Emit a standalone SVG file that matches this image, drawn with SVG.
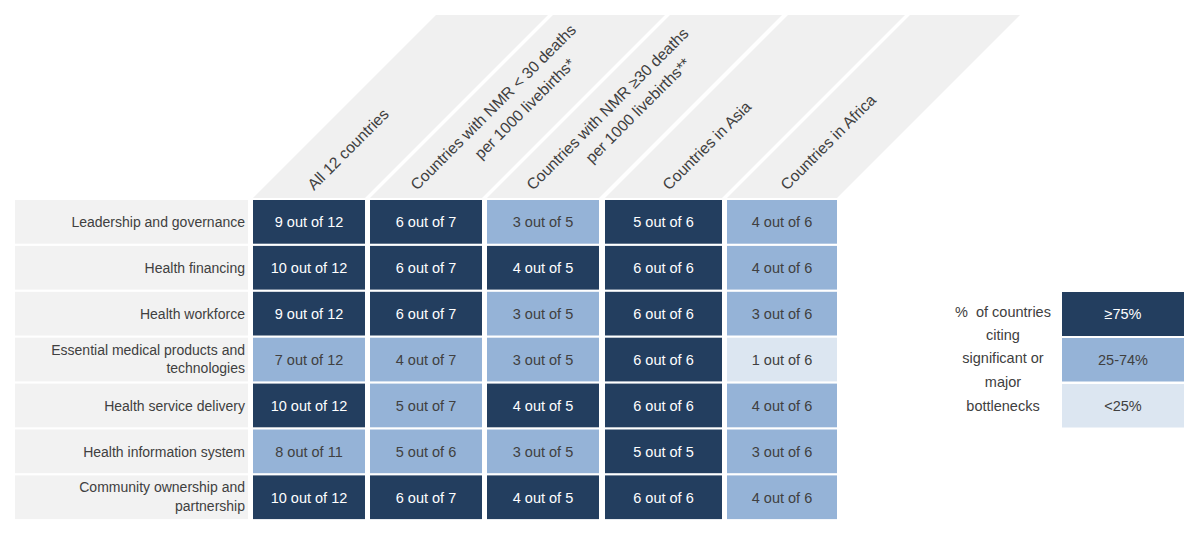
<svg xmlns="http://www.w3.org/2000/svg" width="1200" height="534" viewBox="0 0 1200 534">
<style>
text{font-family:"Liberation Sans",Arial,sans-serif;fill:#404040}
.hd{fill:#f0f0f0}
.ht{font-size:15.7px}
.lb{fill:#f2f2f2}
.lt{font-size:14px;text-anchor:end}
.ct{font-size:14.5px;text-anchor:middle}
.D{fill:#233e5f}
.M{fill:#95b3d7}
.L{fill:#dce6f1}
.w{fill:#ffffff}
</style>
<rect width="1200" height="534" fill="#ffffff"/>
<g id="headers">
<g id="h1"><polygon class="hd" points="253,198 365,198 548,15 436,15"/><text class="ht" transform="translate(314,191) rotate(-45)">All 12 countries</text></g>
<g id="h2"><polygon class="hd" points="370,198 482,198 665,15 553,15"/><text class="ht" transform="translate(417,191) rotate(-45)">Countries with NMR &lt; 30 deaths</text><text class="ht" transform="translate(481,160) rotate(-45)">per 1000 livebirths*</text></g>
<g id="h3"><polygon class="hd" points="487,198 599,198 782,15 670,15"/><text class="ht" transform="translate(533,191) rotate(-45)">Countries with NMR ≥30 deaths</text><text class="ht" transform="translate(592,164) rotate(-45)">per 1000 livebirths**</text></g>
<g id="h4"><polygon class="hd" points="605,198 722,198 905,15 788,15"/><text class="ht" transform="translate(669,191) rotate(-45)">Countries in Asia</text></g>
<g id="h5"><polygon class="hd" points="727,198 837,198 1020,15 910,15"/><text class="ht" transform="translate(787,191) rotate(-45)">Countries in Africa</text></g>
</g>
<g id="rows">
<g id="r1">
<rect class="lb" x="15" y="200" width="233" height="43.7"/><text class="lt" x="245" y="227">Leadership and governance</text>
<rect class="D" x="253" y="200" width="112" height="43.7"/><text class="ct w" x="309" y="227">9 out of 12</text>
<rect class="D" x="370" y="200" width="112" height="43.7"/><text class="ct w" x="426" y="227">6 out of 7</text>
<rect class="M" x="487" y="200" width="112" height="43.7"/><text class="ct" x="543" y="227">3 out of 5</text>
<rect class="D" x="605" y="200" width="117" height="43.7"/><text class="ct w" x="663.5" y="227">5 out of 6</text>
<rect class="M" x="727" y="200" width="110" height="43.7"/><text class="ct" x="782" y="227">4 out of 6</text>
</g>
<g id="r2">
<rect class="lb" x="15" y="245.9" width="233" height="43.7"/><text class="lt" x="245" y="273">Health financing</text>
<rect class="D" x="253" y="245.9" width="112" height="43.7"/><text class="ct w" x="309" y="273">10 out of 12</text>
<rect class="D" x="370" y="245.9" width="112" height="43.7"/><text class="ct w" x="426" y="273">6 out of 7</text>
<rect class="D" x="487" y="245.9" width="112" height="43.7"/><text class="ct w" x="543" y="273">4 out of 5</text>
<rect class="D" x="605" y="245.9" width="117" height="43.7"/><text class="ct w" x="663.5" y="273">6 out of 6</text>
<rect class="M" x="727" y="245.9" width="110" height="43.7"/><text class="ct" x="782" y="273">4 out of 6</text>
</g>
<g id="r3">
<rect class="lb" x="15" y="291.8" width="233" height="43.7"/><text class="lt" x="245" y="319">Health workforce</text>
<rect class="D" x="253" y="291.8" width="112" height="43.7"/><text class="ct w" x="309" y="319">9 out of 12</text>
<rect class="D" x="370" y="291.8" width="112" height="43.7"/><text class="ct w" x="426" y="319">6 out of 7</text>
<rect class="M" x="487" y="291.8" width="112" height="43.7"/><text class="ct" x="543" y="319">3 out of 5</text>
<rect class="D" x="605" y="291.8" width="117" height="43.7"/><text class="ct w" x="663.5" y="319">6 out of 6</text>
<rect class="M" x="727" y="291.8" width="110" height="43.7"/><text class="ct" x="782" y="319">3 out of 6</text>
</g>
<g id="r4">
<rect class="lb" x="15" y="337.7" width="233" height="43.7"/><text class="lt" x="245" y="355">Essential medical products and</text><text class="lt" x="245" y="373">technologies</text>
<rect class="M" x="253" y="337.7" width="112" height="43.7"/><text class="ct" x="309" y="365">7 out of 12</text>
<rect class="M" x="370" y="337.7" width="112" height="43.7"/><text class="ct" x="426" y="365">4 out of 7</text>
<rect class="M" x="487" y="337.7" width="112" height="43.7"/><text class="ct" x="543" y="365">3 out of 5</text>
<rect class="D" x="605" y="337.7" width="117" height="43.7"/><text class="ct w" x="663.5" y="365">6 out of 6</text>
<rect class="L" x="727" y="337.7" width="110" height="43.7"/><text class="ct" x="782" y="365">1 out of 6</text>
</g>
<g id="r5">
<rect class="lb" x="15" y="383.6" width="233" height="43.7"/><text class="lt" x="245" y="411">Health service delivery</text>
<rect class="D" x="253" y="383.6" width="112" height="43.7"/><text class="ct w" x="309" y="411">10 out of 12</text>
<rect class="M" x="370" y="383.6" width="112" height="43.7"/><text class="ct" x="426" y="411">5 out of 7</text>
<rect class="D" x="487" y="383.6" width="112" height="43.7"/><text class="ct w" x="543" y="411">4 out of 5</text>
<rect class="D" x="605" y="383.6" width="117" height="43.7"/><text class="ct w" x="663.5" y="411">6 out of 6</text>
<rect class="M" x="727" y="383.6" width="110" height="43.7"/><text class="ct" x="782" y="411">4 out of 6</text>
</g>
<g id="r6">
<rect class="lb" x="15" y="429.5" width="233" height="43.7"/><text class="lt" x="245" y="456.5">Health information system</text>
<rect class="M" x="253" y="429.5" width="112" height="43.7"/><text class="ct" x="309" y="456.5">8 out of 11</text>
<rect class="M" x="370" y="429.5" width="112" height="43.7"/><text class="ct" x="426" y="456.5">5 out of 6</text>
<rect class="M" x="487" y="429.5" width="112" height="43.7"/><text class="ct" x="543" y="456.5">3 out of 5</text>
<rect class="D" x="605" y="429.5" width="117" height="43.7"/><text class="ct w" x="663.5" y="456.5">5 out of 5</text>
<rect class="M" x="727" y="429.5" width="110" height="43.7"/><text class="ct" x="782" y="456.5">3 out of 6</text>
</g>
<g id="r7">
<rect class="lb" x="15" y="475.4" width="233" height="43.7"/><text class="lt" x="245" y="492">Community ownership and</text><text class="lt" x="245" y="511">partnership</text>
<rect class="D" x="253" y="475.4" width="112" height="43.7"/><text class="ct w" x="309" y="502.5">10 out of 12</text>
<rect class="D" x="370" y="475.4" width="112" height="43.7"/><text class="ct w" x="426" y="502.5">6 out of 7</text>
<rect class="D" x="487" y="475.4" width="112" height="43.7"/><text class="ct w" x="543" y="502.5">4 out of 5</text>
<rect class="D" x="605" y="475.4" width="117" height="43.7"/><text class="ct w" x="663.5" y="502.5">6 out of 6</text>
<rect class="M" x="727" y="475.4" width="110" height="43.7"/><text class="ct" x="782" y="502.5">4 out of 6</text>
</g>
</g>
<g id="legend">
<g id="legend-title">
<text class="ct" x="1003" y="317" xml:space="preserve">%  of countries</text>
<text class="ct" x="1003" y="340">citing</text>
<text class="ct" x="1003" y="363">significant or</text>
<text class="ct" x="1003" y="387">major</text>
<text class="ct" x="1003" y="411">bottlenecks</text>
</g>
<g id="leg-high"><rect class="D" x="1062" y="292" width="122" height="44"/><text class="ct w" x="1123" y="319">≥75%</text></g>
<g id="leg-mid"><rect class="M" x="1062" y="338" width="122" height="43.5"/><text class="ct" x="1123" y="365">25-74%</text></g>
<g id="leg-low"><rect class="L" x="1062" y="384" width="122" height="43.5"/><text class="ct" x="1123" y="411">&lt;25%</text></g>
</g>
<g id="connectors"/>
</svg>
